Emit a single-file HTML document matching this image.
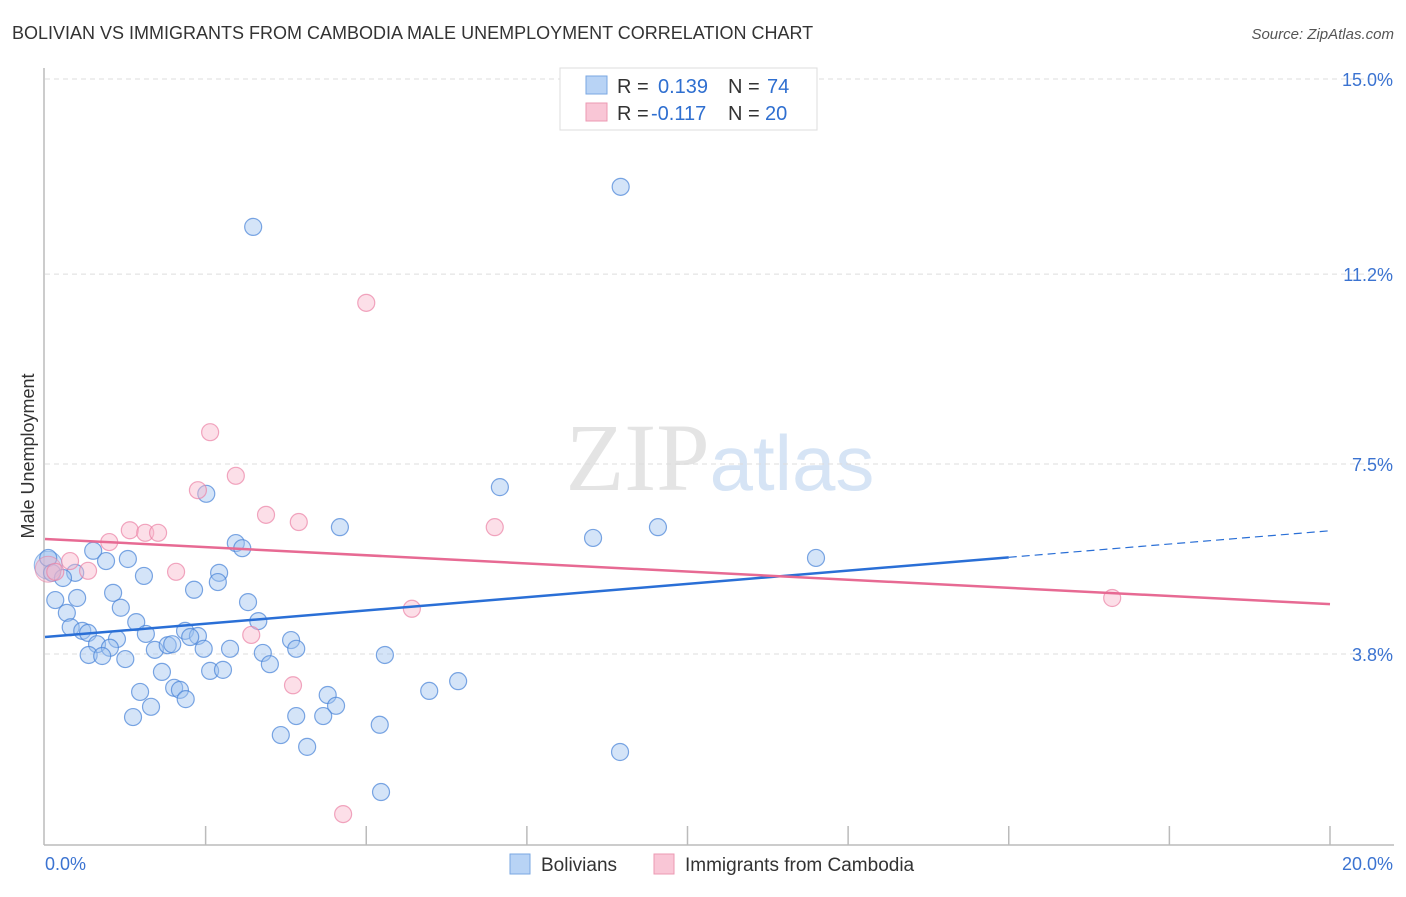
<!DOCTYPE html>
<html><head><meta charset="utf-8"><style>
body{margin:0;background:#fff;font-family:"Liberation Sans",sans-serif;}
svg text{font-family:"Liberation Sans",sans-serif;}
</style></head><body>
<svg id="chart" width="1406" height="892" xmlns="http://www.w3.org/2000/svg">
<text x="12" y="39" font-size="18" fill="#333">BOLIVIAN VS IMMIGRANTS FROM CAMBODIA MALE UNEMPLOYMENT CORRELATION CHART</text>
<text x="1394" y="39" font-size="15" fill="#555" text-anchor="end" font-style="italic">Source: ZipAtlas.com</text>
<text x="720" y="490" font-size="96" text-anchor="middle" fill="#e4e4e4"><tspan font-family="Liberation Serif">ZIP</tspan><tspan fill="#d6e4f5" font-size="78">atlas</tspan></text>
<text transform="translate(34,456) rotate(-90)" font-size="18" fill="#333" text-anchor="middle">Male Unemployment</text>
<g id="grid"></g>
<g id="axes"></g>
<g id="points"></g>
<g id="trends"></g>
<g>
<rect x="560" y="68" width="257" height="62" fill="#fff" stroke="#ddd"/>
<rect x="586" y="76" width="21" height="18" fill="#b8d3f5" stroke="#7aa7e2"/>
<rect x="586" y="103" width="21" height="18" fill="#f9c6d6" stroke="#ec99b3"/>
<text x="617" y="93" font-size="20" fill="#333">R = <tspan fill="#2f6fd0" x="658">0.139</tspan><tspan x="728" fill="#333">N = </tspan><tspan fill="#2f6fd0" x="767">74</tspan></text>
<text x="617" y="120" font-size="20" fill="#333">R = <tspan fill="#2f6fd0" x="651">-0.117</tspan><tspan x="728" fill="#333">N = </tspan><tspan fill="#2f6fd0" x="765">20</tspan></text>
</g>
<g>
<rect x="510" y="854" width="20" height="20" fill="#b8d3f5" stroke="#7aa7e2"/>
<text x="541" y="871" font-size="19" fill="#333">Bolivians</text>
<rect x="654" y="854" width="20" height="20" fill="#f9c6d6" stroke="#ec99b3"/>
<text x="685" y="871" font-size="19" fill="#333">Immigrants from Cambodia</text>
</g>
</svg>
<script>
const xTicks=[0,2.5,5,7.5,10,12.5,15,17.5,20];
const yTicks=[3.8,7.5,11.2,15.0];
const yTickLabels=["3.8%","7.5%","11.2%","15.0%"];
const xEndLabels=["0.0%","20.0%"];
const blueX=[3.24,8.96,2.51,7.08,4.59,9.54,8.53,12.00,2.97,3.07,0.75,0.95,1.29,0.05,0.11,0.47,0.28,1.54,2.71,2.69,0.16,0.50,1.06,2.32,3.16,1.18,0.34,1.42,3.32,0.40,0.58,0.67,1.57,2.18,2.38,2.26,1.12,0.81,1.01,1.71,1.91,1.98,2.88,2.47,3.39,3.83,3.91,5.29,0.68,0.89,1.25,3.50,1.82,2.57,2.77,5.98,6.43,1.48,2.01,2.10,2.19,4.40,4.53,1.65,1.37,3.91,4.33,5.21,3.67,4.08,8.95,5.23];
const blueY=[12.12,12.90,6.92,7.05,6.27,6.27,6.06,5.67,5.96,5.86,5.81,5.61,5.65,5.67,5.38,5.38,5.28,5.32,5.38,5.20,4.85,4.89,4.99,5.05,4.81,4.70,4.60,4.42,4.44,4.32,4.25,4.21,4.19,4.25,4.15,4.13,4.09,3.99,3.92,3.88,3.97,3.99,3.90,3.90,3.82,4.07,3.90,3.78,3.78,3.76,3.70,3.60,3.45,3.47,3.49,3.08,3.27,3.06,3.14,3.10,2.92,3.00,2.79,2.77,2.57,2.59,2.59,2.42,2.22,1.99,1.89,1.11];
const pinkX=[5.00,2.57,2.97,2.38,3.44,3.95,7.00,1.32,1.56,1.76,1.00,0.39,0.67,2.04,0.16,5.71,3.21,3.86,4.64,16.61];
const pinkY=[10.64,8.12,7.27,6.99,6.51,6.37,6.27,6.21,6.16,6.16,5.98,5.61,5.42,5.40,5.40,4.68,4.17,3.19,0.68,4.89];
const blueTrend=[4.13,6.20];
const pinkTrend=[6.04,4.77];
const blueSolidEnd=15.0;

const NS="http://www.w3.org/2000/svg";
const X0=45,X1=1330,Y0=849,PPU=51.33;
const sx=v=>X0+v/20*(X1-X0);
const sy=v=>Y0-v*PPU;
function mk(tag,attrs,parent){const e=document.createElementNS(NS,tag);for(const k in attrs)e.setAttribute(k,attrs[k]);parent.appendChild(e);return e;}
const grid=document.getElementById('grid'),axes=document.getElementById('axes'),pts=document.getElementById('points'),tr=document.getElementById('trends');
yTicks.forEach((t,i)=>{
 const l=mk('line',{x1:45,x2:1394,y1:sy(t),y2:sy(t),stroke:'#ddd','stroke-dasharray':'5,4'},grid);
 
 
 const tx=mk('text',{x:1393,y:sy(t)+7,'font-size':18,fill:'#3b73d1','text-anchor':'end'},axes);
 tx.textContent=yTickLabels[i];
 
 
});
const ya=mk('line',{x1:44,x2:44,y1:68,y2:845,stroke:'#bbb','stroke-width':1.5},axes);


const xa=mk('line',{x1:44,x2:1394,y1:845,y2:845,stroke:'#bbb','stroke-width':1.5},axes);


xTicks.forEach(t=>{if(t===0)return;
 const l=mk('line',{x1:sx(t),x2:sx(t),y1:826,y2:845,stroke:'#bbb','stroke-width':1.5},axes);
 
 
});
const xl0=mk('text',{x:45,y:870,'font-size':18,fill:'#3b73d1'},axes);xl0.textContent=xEndLabels[0];


const xl1=mk('text',{x:1393,y:870,'font-size':18,fill:'#3b73d1','text-anchor':'end'},axes);xl1.textContent=xEndLabels[1];


// big overlapping points at origin
const bb=mk('circle',{cx:sx(0.05),cy:sy(5.53),r:14,fill:'rgba(160,195,240,0.5)',stroke:'rgba(80,140,220,0.6)'},pts);


blueX.forEach((x,i)=>{
 const c=mk('circle',{cx:sx(x),cy:sy(blueY[i]),r:8.5,fill:'rgba(160,195,240,0.45)',stroke:'rgba(70,130,215,0.7)','stroke-width':1.2},pts);
 
 
});
const pb=mk('circle',{cx:sx(0.05),cy:sy(5.45),r:13,fill:'rgba(245,180,200,0.45)',stroke:'rgba(230,130,165,0.6)'},pts);


pinkX.forEach((x,i)=>{
 const c=mk('circle',{cx:sx(x),cy:sy(pinkY[i]),r:8.5,fill:'rgba(248,185,205,0.45)',stroke:'rgba(235,130,165,0.7)','stroke-width':1.2},pts);
 
 
});
const by=v=>blueTrend[0]+(blueTrend[1]-blueTrend[0])*v/20;
const b1=mk('line',{x1:sx(0),y1:sy(by(0)),x2:sx(blueSolidEnd),y2:sy(by(blueSolidEnd)),stroke:'#2a6fd6','stroke-width':2.5},tr);


const b2=mk('line',{x1:sx(blueSolidEnd),y1:sy(by(blueSolidEnd)),x2:sx(20),y2:sy(by(20)),stroke:'#2a6fd6','stroke-width':1.2,'stroke-dasharray':'8,5'},tr);


const p1=mk('line',{x1:sx(0),y1:sy(pinkTrend[0]),x2:sx(20),y2:sy(pinkTrend[1]),stroke:'#e76a93','stroke-width':2.5},tr);


</script>
</body></html>
